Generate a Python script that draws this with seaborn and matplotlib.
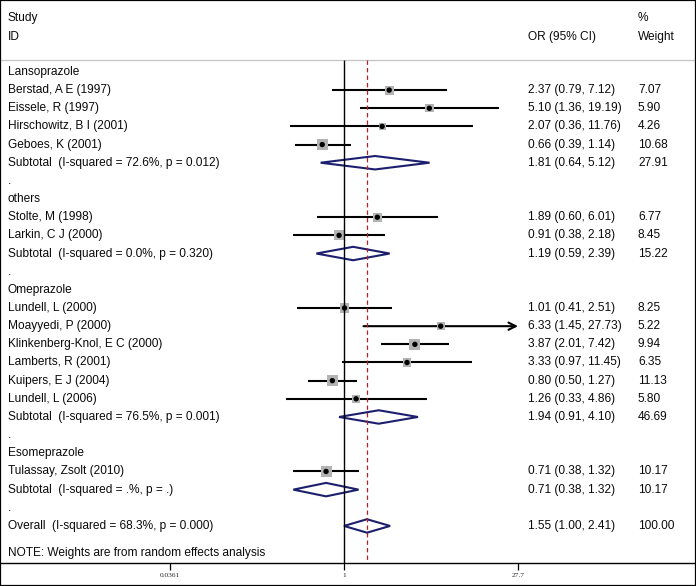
import matplotlib
matplotlib.use("Agg")
import matplotlib.pyplot as plt
from matplotlib.patches import Polygon, Rectangle
from matplotlib.ticker import FixedLocator, NullLocator, FixedFormatter
import seaborn as sns
import numpy as np
import pandas as pd

# ---- data ----
groups = ["Lansoprazole", "others", "Omeprazole", "Esomeprazole"]

study_names = ["Berstad, A E (1997)", "Eissele, R (1997)", "Hirschowitz, B I (2001)", "Geboes, K (2001)",
               "Stolte, M (1998)", "Larkin, C J (2000)",
               "Lundell, L (2000)", "Moayyedi, P (2000)", "Klinkenberg-Knol, E C (2000)",
               "Lamberts, R (2001)", "Kuipers, E J (2004)", "Lundell, L (2006)",
               "Tulassay, Zsolt (2010)"]
study_group = [0, 0, 0, 0, 1, 1, 2, 2, 2, 2, 2, 2, 3]
study_or = [2.37, 5.10, 2.07, 0.66, 1.89, 0.91, 1.01, 6.33, 3.87, 3.33, 0.80, 1.26, 0.71]
study_lo = [0.79, 1.36, 0.36, 0.39, 0.60, 0.38, 0.41, 1.45, 2.01, 0.97, 0.50, 0.33, 0.38]
study_hi = [7.12, 19.19, 11.76, 1.14, 6.01, 2.18, 2.51, 27.73, 7.42, 11.45, 1.27, 4.86, 1.32]
study_w = [7.07, 5.90, 4.26, 10.68, 6.77, 8.45, 8.25, 5.22, 9.94, 6.35, 11.13, 5.80, 10.17]

sub_i2 = ["72.6%", "0.0%", "76.5%", ".%"]
sub_p = ["0.012", "0.320", "0.001", "."]
sub_or = [1.81, 1.19, 1.94, 0.71]
sub_lo = [0.64, 0.59, 0.91, 0.38]
sub_hi = [5.12, 2.39, 4.10, 1.32]
sub_w = [27.91, 15.22, 46.69, 10.17]

overall_i2, overall_p = "68.3%", "0.000"
overall_or, overall_lo, overall_hi, overall_w = 1.55, 1.00, 2.41, 100.00

tick_vals = [0.0361, 1, 27.7]
tick_labels = ["0.0361", "1", "27.7"]

# ---- row layout ----
rows = []  # (y, kind, label, est, lo, hi, weight)
y = 0
for g, gname in enumerate(groups):
    rows.append((y, "group", gname, None, None, None, None))
    y += 1
    for i in range(len(study_names)):
        if study_group[i] == g:
            rows.append((y, "study", study_names[i], study_or[i], study_lo[i], study_hi[i], study_w[i]))
            y += 1
    rows.append((y, "sub", "Subtotal  (I-squared = %s, p = %s)" % (sub_i2[g], sub_p[g]),
                 sub_or[g], sub_lo[g], sub_hi[g], sub_w[g]))
    y += 1
    rows.append((y, "dot", ".", None, None, None, None))
    y += 1
rows.append((y, "sub", "Overall  (I-squared = %s, p = %s)" % (overall_i2, overall_p),
             overall_or, overall_lo, overall_hi, overall_w))
y_overall = y

sns.set_style("white")
plt.rcParams["font.family"] = ["Liberation Sans", "DejaVu Sans"]

W, H = 696, 586
fig = plt.figure(figsize=(W / 100, H / 100), dpi=100)
ax = fig.add_axes([0, 23 / H, 1, 563 / H])

px_per_ln = 52.39
x0 = 344.0
ax.set_xscale("log")
ax.set_xlim(np.exp(-x0 / px_per_ln), np.exp((W - x0) / px_per_ln))
y_top, y_bot = -3.96, 27.04
ax.set_ylim(y_bot, y_top)

fs = 8.6
txt_col = "#0a0a0a"
xmax = tick_vals[-1]
trans = ax.get_yaxis_transform()
navy = "#1c1f6e"

for (yy, kind, label, est, lo, hi, w) in rows:
    ax.text(8 / W, yy, label, transform=trans,
            fontsize=fs, va="center", ha="left", color=txt_col)
    if est is None:
        continue
    ax.text(528 / W, yy, "%.2f (%.2f, %.2f)" % (est, lo, hi), transform=trans,
            fontsize=fs, va="center", ha="left", color=txt_col)
    ax.text(638 / W, yy, "%.2f" % w, transform=trans,
            fontsize=fs, va="center", ha="left", color=txt_col)
    if kind == "study":
        if hi > xmax:
            ax.annotate("", xy=(xmax, yy), xytext=(lo, yy),
                        arrowprops=dict(arrowstyle="->", lw=1.5, color="black",
                                        shrinkA=0, shrinkB=0, mutation_scale=13),
                        zorder=2)
        else:
            ax.plot([lo, hi], [yy, yy], color="black", lw=1.5, zorder=2,
                    solid_capstyle="butt")
    else:
        h = 0.37
        ax.add_patch(Polygon([(lo, yy), (est, yy - h), (hi, yy), (est, yy + h)],
                             closed=True, fill=False, edgecolor=navy, lw=1.5, zorder=4))

df = pd.DataFrame({"row": [r[0] for r in rows if r[1] == "study"],
                   "OR": study_or, "weight": study_w})
max_area = 68.0
sns.scatterplot(data=df, x="OR", y="row", size="weight", sizes=(0, max_area),
                size_norm=(0, max(study_w)), marker="s", color="#b3b3b3",
                edgecolor="none", linewidth=0, legend=False, ax=ax, zorder=3)
sns.scatterplot(data=df, x="OR", y="row", marker="o", color="black", s=15,
                edgecolor="none", legend=False, ax=ax, zorder=5)

# reference lines
ax.vlines(1, -0.66, y_bot, color="black", lw=1.0, zorder=4)
ax.vlines(overall_or, -0.66, y_bot, color="#b22222", lw=0.9, linestyles=(0, (3.5, 2.5)), zorder=4)
ax.axhline(-0.66, color="#c4c4c4", lw=0.9)

# header
ax.text(8 / W, -2.97, "Study", transform=trans, fontsize=fs, va="center", ha="left", color=txt_col)
ax.text(8 / W, -1.93, "ID", transform=trans, fontsize=fs, va="center", ha="left", color=txt_col)
ax.text(528 / W, -1.93, "OR (95% CI)", transform=trans, fontsize=fs, va="center", ha="left", color=txt_col)
ax.text(638 / W, -2.97, "%", transform=trans, fontsize=fs, va="center", ha="left", color=txt_col)
ax.text(638 / W, -1.93, "Weight", transform=trans, fontsize=fs, va="center", ha="left", color=txt_col)
ax.text(8 / W, y_overall + 1.49, "NOTE: Weights are from random effects analysis", transform=trans,
        fontsize=fs, va="center", ha="left", color=txt_col)

# axis
for s in ["top", "left", "right"]:
    ax.spines[s].set_visible(False)
ax.spines["bottom"].set_color("black")
ax.spines["bottom"].set_linewidth(1.0)
ax.xaxis.set_major_locator(FixedLocator(tick_vals))
ax.xaxis.set_major_formatter(FixedFormatter(tick_labels))
ax.xaxis.set_minor_locator(NullLocator())
ax.tick_params(axis="x", which="major", bottom=True, length=5, width=0.9, color="black",
               pad=2, labelsize=5.3)
for t in ax.get_xticklabels():
    t.set_family(["Liberation Serif", "DejaVu Serif"])
ax.set_yticks([])
ax.set_xlabel("")
ax.set_ylabel("")

fig.patches.append(Rectangle((0, 0), 1, 1, transform=fig.transFigure, fill=False,
                             edgecolor="black", lw=1.6))

fig.savefig("out.png", dpi=100)
